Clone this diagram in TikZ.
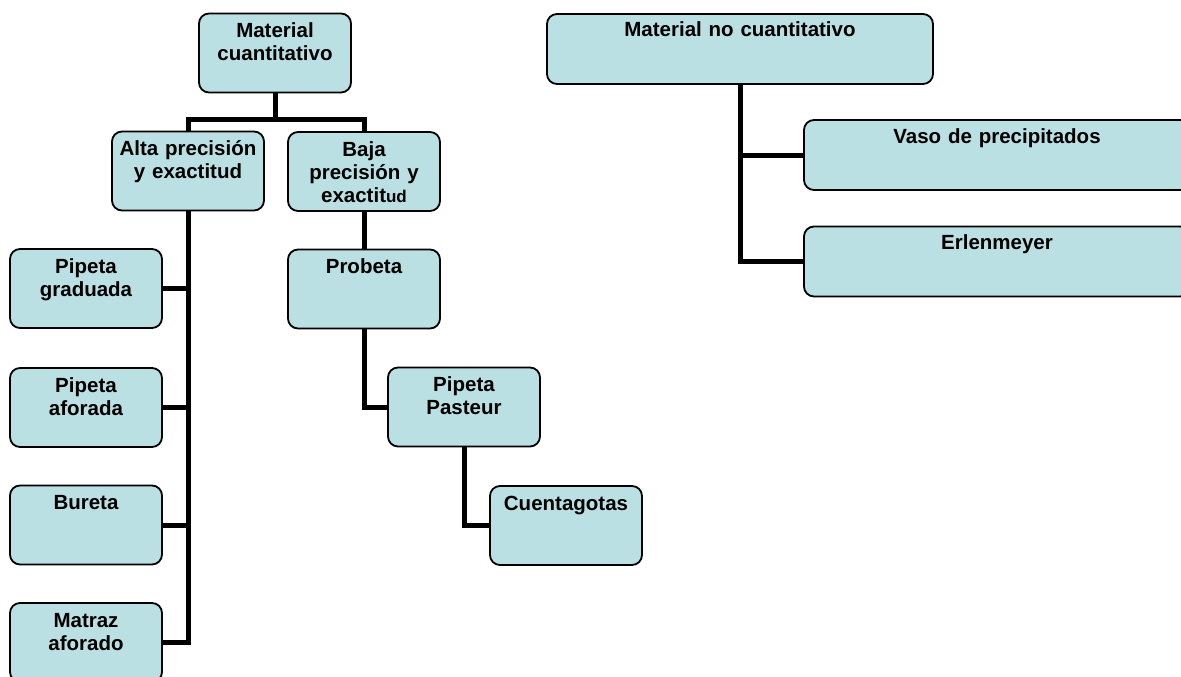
\documentclass[tikz,border=0pt]{standalone}
\usepackage{fontspec}
\setmainfont{Liberation Sans}
\usepackage{xcolor}
\usepackage{tikz}
\definecolor{boxfill}{RGB}{187,224,227}

\begin{document}
\begin{tikzpicture}[x=1pt, y=-1pt,
  box/.style={draw, line width=1.8pt, rounded corners=10pt, fill=boxfill,
    inner sep=0pt, align=center, text width=152pt, text height=24pt, text depth=55pt,
    font=\fontsize{20.5}{23}\selectfont\bfseries},
  widebox/.style={box, text width=386pt, text height=23pt, text depth=47pt},
  link/.style={line width=5pt}]
\useasboundingbox (0,0) rectangle (1181,677);

% material cuantitativo
\node[box] (mc)   at (275,53)    {Material\\cuantitativo};
\node[box] (alta) at (188,171)   {Alta precisión\\y exactitud};
\node[box] (baja) at (364,171.5) {Baja\\precisión y\\exactit{\fontsize{17}{23}\selectfont ud}};

\node[box] (pg) at (86,288.5) {Pipeta\\graduada};
\node[box] (pa) at (86,407.5) {Pipeta\\aforada};
\node[box] (bu) at (86,525)   {Bureta};
\node[box] (mt) at (86,642.5) {Matraz\\aforado};

\node[box] (prob) at (364,289)   {Probeta};
\node[box] (past) at (464,407)   {Pipeta\\Pasteur};
\node[box] (cuen) at (566,525.5) {Cuentagotas};

% material no cuantitativo
\node[widebox] (mnc)  at (740,49)    {Material no cuantitativo};
\node[widebox] (vaso) at (997,155)   {Vaso de precipitados};
\node[widebox] (erl)  at (997,261.5) {Erlenmeyer};

\draw[link] (mc.south) -- ++(0,26) -| (alta.north);
\draw[link] (mc.south) ++(0,26) -| (baja.north);

\foreach \n in {pg,pa,bu,mt}
  \draw[link] (alta.south) |- (\n.east);

\draw[link] (baja.south) -- (prob.north);
\draw[link] (prob.south) |- (past.west);
\draw[link] (past.south) |- (cuen.west);

\draw[link] (mnc.south) |- (vaso.west);
\draw[link] (mnc.south) |- (erl.west);
\end{tikzpicture}
\end{document}
